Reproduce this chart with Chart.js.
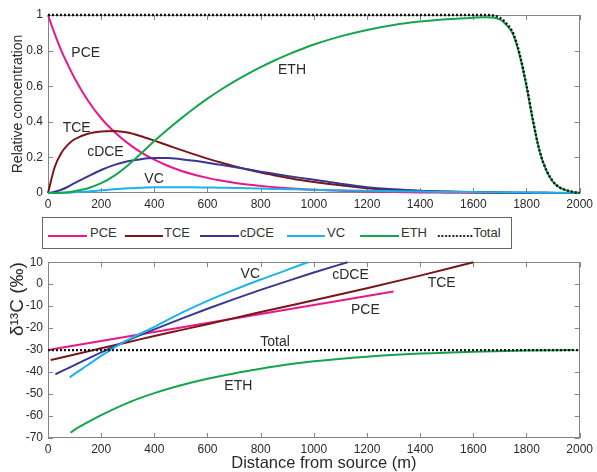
<!DOCTYPE html>
<html>
<head>
<meta charset="utf-8">
<script src="https://cdn.jsdelivr.net/npm/chart.js@4"></script>
<style>
  html,body{margin:0;padding:0;background:#fff;}
  body{width:597px;height:472px;position:relative;overflow:hidden;font-family:"Liberation Sans",Arial,sans-serif;}
  canvas{position:absolute;left:0;}
  #c1{top:0;}
  #c2{top:250px;}
  #legend{position:absolute;left:42px;top:217px;width:468px;height:30px;border:1.5px solid #666;box-sizing:content-box;}
  .ln{position:absolute;height:2px;top:17px;}
  .lt{position:absolute;top:7px;font-size:13px;color:#333;line-height:15px;white-space:nowrap;}
</style>
</head>
<body>
<canvas id="c1" width="597" height="215"></canvas>
<div id="legend"></div>
<canvas id="c2" width="597" height="222"></canvas>
<script>
// ---------- Data: relative concentration (top panel) ----------
const distance = [0,25,50,75,100,150,200,250,300,350,400,450,500,550,600,650,700,750,800,850,900,950,1000,
  1100,1200,1300,1400,1500,1600,1650,1700,1725,1750,1775,1800,1825,1850,1875,1900,1925,1950,1975,2000];
const concPCE = [1,0.895,0.80,0.72,0.645,0.52,0.42,0.343,0.28,0.228,0.187,0.153,0.125,0.103,0.085,0.07,0.058,0.048,0.04,0.033,0.027,0.022,0.018,
  0.012,0.008,0.005,0.003,0.002,0.001,0.001,0.001,0,0,0,0,0,0,0,0,0,0,0,0];
const concTCE = [0,0.145,0.225,0.272,0.302,0.333,0.346,0.349,0.340,0.319,0.294,0.268,0.242,0.217,0.193,0.171,0.151,0.132,0.115,0.1,0.086,0.073,0.062,
  0.043,0.027,0.017,0.011,0.007,0.004,0.003,0.002,0.002,0.002,0.001,0.001,0.001,0.001,0.001,0,0,0,0,0];
const concDCE = [0,0.007,0.018,0.035,0.055,0.093,0.129,0.158,0.178,0.19,0.196,0.196,0.19,0.181,0.17,0.158,0.146,0.133,0.12,0.108,0.096,0.085,0.075,
  0.052,0.033,0.021,0.013,0.008,0.005,0.004,0.003,0.003,0.002,0.002,0.002,0.001,0.001,0.001,0.001,0,0,0,0];
const concVC = [0,0,0.001,0.002,0.004,0.009,0.015,0.021,0.026,0.03,0.032,0.033,0.033,0.032,0.031,0.03,0.028,0.027,0.025,0.023,0.021,0.02,0.018,
  0.015,0.012,0.01,0.008,0.006,0.005,0.004,0.004,0.003,0.003,0.003,0.003,0.002,0.002,0.002,0.002,0.001,0.001,0.001,0.001];
const concETH = [0,0,0.001,0.004,0.010,0.027,0.055,0.098,0.155,0.222,0.292,0.357,0.418,0.476,0.530,0.580,0.626,0.668,0.707,0.743,0.776,0.806,0.834,
  0.880,0.916,0.944,0.963,0.976,0.985,0.988,0.975,0.944,0.89,0.77,0.6,0.4,0.23,0.125,0.062,0.03,0.015,0.005,0];
const concTotal = [1,1,1,1,1,1,1,1,1,1,1,1,1,1,1,1,1,1,1,1,1,1,1,
  1,1,1,1,1,1,1,0.984,0.951,0.897,0.776,0.605,0.404,0.233,0.128,0.064,0.031,0.016,0.006,0];

// ---------- Data: d13C (bottom panel) ----------
const isoX_PCE = [0,200,400,600,800,1000,1200,1300];
const isoPCE   = [-30,-25.9,-21.8,-17.7,-13.6,-9.5,-5.4,-3.3];
const isoX_TCE = [10,100,200,300,400,500,600,800,1000,1200,1400,1600];
const isoTCE   = [-34.5,-32,-29.2,-26.4,-23.6,-20.9,-18.2,-12.7,-7.3,-1.9,3.9,10];
const isoX_DCE = [28,100,200,300,400,500,600,700,800,900,1000,1127];
const isoDCE   = [-41,-36.8,-31,-25.6,-20.6,-15.8,-11.2,-6.8,-2.6,1.4,5.3,10];
const isoX_VC  = [82,100,150,200,300,400,500,600,700,800,900,978];
const isoVC    = [-42.4,-40.8,-36.8,-32.6,-25.4,-19.4,-13.2,-7.6,-2.6,2.1,6.5,10];
const isoX_ETH = [85,100,150,200,300,400,500,600,700,800,900,1000,1200,1400,1600,1800,1980];
const isoETH   = [-67.6,-66.3,-62.8,-59.6,-54,-49.6,-46,-43,-40.6,-38.5,-36.6,-35.1,-33,-31.6,-30.7,-30.2,-30];
const isoX_Total = [0,2000];
const isoTotal   = [-30,-30];

// ---------- Tick labels / names ----------
const xTicks = [0,200,400,600,800,1000,1200,1400,1600,1800,2000];
const concTicks = [0,0.2,0.4,0.6,0.8,1];
const isoTicks = [-70,-60,-50,-40,-30,-20,-10,0,10];
const seriesNames = ['PCE','TCE','cDCE','VC','ETH','Total'];
const colors = {PCE:'#e8178a', TCE:'#7a1518', cDCE:'#383892', VC:'#1cb3ea', ETH:'#15a54f', Total:'#111111'};

const FONT = '"Liberation Sans", Arial, sans-serif';
const TXT = '#2a2a2a';

function pts(xs, ys){ return xs.map((x,i)=>({x:x, y:ys[i]})); }

// frame + inward ticks (under data) and in-plot labels (over data)
function framePlugin(labels, extra){
  return {
    id:'frame'+Math.random().toString(36).slice(2),
    beforeDatasetsDraw(chart){
      const {ctx, chartArea:a, scales:{x, y}} = chart;
      ctx.save();
      ctx.strokeStyle = '#858585';
      ctx.lineWidth = 1;
      ctx.strokeRect(Math.round(a.left)+0.5, Math.round(a.top)+0.5, Math.round(a.right-a.left)-1, Math.round(a.bottom-a.top)-1);
      ctx.beginPath();
      const tl = 5;
      x.ticks.forEach(t=>{
        const px = Math.round(x.getPixelForValue(t.value))+0.5;
        ctx.moveTo(px, a.bottom); ctx.lineTo(px, a.bottom-tl);
        ctx.moveTo(px, a.top); ctx.lineTo(px, a.top+tl);
      });
      y.ticks.forEach(t=>{
        const py = Math.round(y.getPixelForValue(t.value))+0.5;
        ctx.moveTo(a.left, py); ctx.lineTo(a.left+tl, py);
        ctx.moveTo(a.right, py); ctx.lineTo(a.right-tl, py);
      });
      ctx.stroke();
      ctx.restore();
    },
    afterDraw(chart){
      const {ctx, scales:{x, y}} = chart;
      ctx.save();
      ctx.fillStyle = TXT;
      ctx.font = '14px ' + FONT;
      ctx.textAlign = 'center';
      ctx.textBaseline = 'middle';
      labels.forEach(l=>{
        ctx.fillText(l.text, x.getPixelForValue(l.x), y.getPixelForValue(l.y));
      });
      if (extra) extra(chart, ctx);
      ctx.restore();
    }
  };
}

function xScale(h){
  return {
    type:'linear', min:0, max:2000,
    afterBuildTicks(s){ s.ticks = xTicks.map(v=>({value:v})); },
    ticks:{ callback:v=>String(v), color:TXT, font:{size:12, family:FONT}, padding:4, maxRotation:0, autoSkip:false },
    grid:{ display:false, drawTicks:false },
    border:{ display:false },
    afterFit(s){ s.height = h; }
  };
}

function makeDatasets(sets){
  return seriesNames.map((n,i)=>({
    label:n,
    data: pts(sets[i][0], sets[i][1]),
    borderColor: colors[n],
    borderWidth: n==='Total' ? 2.4 : 2,
    borderDash: n==='Total' ? [2,2] : [],
    pointRadius:0,
    cubicInterpolationMode:'monotone',
    fill:false,
    clip: 3,
    order: n==='Total' ? 0 : 6-i
  }));
}

// ---------- Top chart ----------
const topSets = [concPCE, concTCE, concDCE, concVC, concETH, concTotal].map(a=>[distance, a]);
new Chart(document.getElementById('c1'), {
  type:'line',
  data:{ datasets: makeDatasets(topSets) },
  options:{
    responsive:false, animation:false, devicePixelRatio:1,
    layout:{ padding:{ top:15, right:13, left:0, bottom:0 } },
    plugins:{ legend:{display:false}, tooltip:{enabled:false} },
    scales:{
      x: xScale(22),
      y: {
        type:'linear', min:0, max:1,
        afterBuildTicks(s){ s.ticks = concTicks.map(v=>({value:v})); },
        ticks:{ callback:v=>String(v), color:TXT, font:{size:12, family:FONT}, padding:5 },
        grid:{ display:false, drawTicks:false },
        border:{ display:false },
        title:{ display:true, text:'Relative concentration', color:TXT, font:{size:14, family:FONT}, padding:{top:10, bottom:0} },
        afterFit(s){ s.width = 48; }
      }
    }
  },
  plugins:[ framePlugin([
    {text:'PCE', x:142, y:0.787},
    {text:'TCE', x:108, y:0.365},
    {text:'cDCE', x:216, y:0.23},
    {text:'VC', x:399, y:0.079},
    {text:'ETH', x:918, y:0.69}
  ]) ]
});

// ---------- Legend ----------
const legendItems = [
  {n:'PCE', l:48, w:39, t:90},
  {n:'TCE', l:125, w:38, t:164},
  {n:'cDCE', l:200, w:39, t:240},
  {n:'VC', l:287, w:38, t:327},
  {n:'ETH', l:360, w:39, t:401}
];
const lg = document.getElementById('legend');
legendItems.forEach(it=>{
  const d = document.createElement('div');
  d.className='ln'; d.style.left=(it.l-43)+'px'; d.style.width=it.w+'px'; d.style.background=colors[it.n];
  lg.appendChild(d);
  const s = document.createElement('div');
  s.className='lt'; s.style.left=(it.t-43)+'px'; s.textContent=it.n;
  lg.appendChild(s);
});
const tot = document.createElement('div');
tot.className='lt'; tot.style.left=(437-43)+'px'; tot.innerHTML='<b style="color:#111">..........</b>Total';
lg.appendChild(tot);

// ---------- Bottom chart ----------
const isoSets = [[isoX_PCE,isoPCE],[isoX_TCE,isoTCE],[isoX_DCE,isoDCE],[isoX_VC,isoVC],[isoX_ETH,isoETH],[isoX_Total,isoTotal]];
new Chart(document.getElementById('c2'), {
  type:'line',
  data:{ datasets: makeDatasets(isoSets) },
  options:{
    responsive:false, animation:false, devicePixelRatio:1,
    layout:{ padding:{ top:10, right:13, left:0, bottom:0 } },
    plugins:{ legend:{display:false}, tooltip:{enabled:false} },
    scales:{
      x: xScale(34),
      y: {
        type:'linear', min:-70, max:10,
        afterBuildTicks(s){ s.ticks = isoTicks.map(v=>({value:v})); },
        ticks:{ color:TXT, font:{size:12, family:FONT}, padding:5 },
        grid:{ display:false, drawTicks:false },
        border:{ display:false },
        title:{ display:true, text:'δ¹³C (‰)', align:'end', color:TXT, font:{size:19, family:FONT}, padding:{top:6, bottom:0} },
        afterFit(s){ s.width = 48; }
      }
    }
  },
  plugins:[ framePlugin([
    {text:'VC', x:761, y:4.6},
    {text:'cDCE', x:1138, y:4.2},
    {text:'TCE', x:1481, y:0.6},
    {text:'PCE', x:1194, y:-11.6},
    {text:'Total', x:854, y:-26.4},
    {text:'ETH', x:716, y:-46.6}
  ], function(chart, ctx){
    const a = chart.chartArea;
    ctx.font = '16.5px ' + FONT;
    ctx.fillStyle = TXT;
    ctx.textAlign = 'center';
    ctx.textBaseline = 'middle';
    ctx.fillText('Distance from source (m)', (a.left+a.right)/2 + 10, chart.height - 9);
  }) ]
});
</script>
</body>
</html>
